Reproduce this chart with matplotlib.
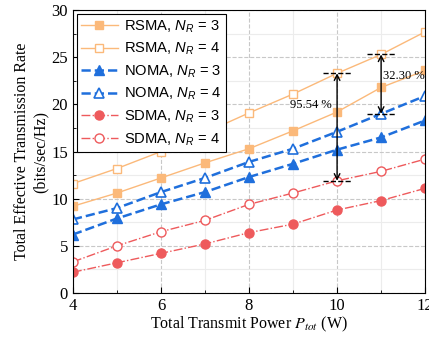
import matplotlib.pyplot as plt

plt.rcParams['font.family'] = 'Liberation Serif'
plt.rcParams['mathtext.fontset'] = 'custom'
plt.rcParams['mathtext.rm'] = 'Liberation Sans'
plt.rcParams['mathtext.it'] = 'Liberation Sans:italic'

# datos
potencia = [4, 5, 6, 7, 8, 9, 10, 11, 12]
rsma_3 = [9.2, 10.6, 12.2, 13.8, 15.3, 17.2, 19.2, 21.8, 23.6]
rsma_4 = [11.6, 13.2, 15.0, 17.0, 19.1, 21.1, 23.3, 25.3, 27.7]
noma_3 = [6.2, 7.9, 9.4, 10.7, 12.3, 13.7, 15.2, 16.5, 18.3]
noma_4 = [7.8, 9.0, 10.7, 12.2, 13.9, 15.3, 17.1, 19.0, 20.9]
sdma_3 = [2.2, 3.2, 4.2, 5.2, 6.4, 7.3, 8.8, 9.8, 11.1]
sdma_4 = [3.3, 5.0, 6.5, 7.7, 9.4, 10.6, 11.9, 12.9, 14.2]

c_rsma = '#fbb97a'
c_noma = '#1f6fdc'
c_sdma = '#ee5a5c'

fig = plt.figure(figsize=(4.29, 3.5), dpi=100)
ax = fig.add_axes([0.170, 0.163, 0.821, 0.808])

ax.plot(potencia, rsma_3, '-', color=c_rsma, lw=1.0, marker='s', ms=6,
        label=r'RSMA, $N_R$ = 3')
ax.plot(potencia, rsma_4, '-', color=c_rsma, lw=1.0, marker='s', ms=6, mfc='white',
        mew=1.0, label=r'RSMA, $N_R$ = 4')
ax.plot(potencia, noma_3, '--', color=c_noma, lw=1.8, marker='^', ms=7,
        label=r'NOMA, $N_R$ = 3')
ax.plot(potencia, noma_4, '--', color=c_noma, lw=1.8, marker='^', ms=7, mfc='white',
        mew=1.2, label=r'NOMA, $N_R$ = 4')
ax.plot(potencia, sdma_3, '-.', color=c_sdma, lw=1.0, marker='o', ms=6.5,
        label=r'SDMA, $N_R$ = 3')
ax.plot(potencia, sdma_4, '-.', color=c_sdma, lw=1.0, marker='o', ms=6.5, mfc='white',
        mew=1.0, label=r'SDMA, $N_R$ = 4')

# flechas de ganancia
i10 = potencia.index(10)
i11 = potencia.index(11)
for x, y0, y1 in [(10, sdma_4[i10], rsma_4[i10]), (11, noma_4[i11], rsma_4[i11])]:
    ax.annotate('', xy=(x, y1), xytext=(x, y0),
                arrowprops=dict(arrowstyle='<->', color='black', lw=1.0,
                                shrinkA=0, shrinkB=0))
    for y in (y0, y1):
        ax.plot([x - 0.33, x + 0.33], [y, y], '--', color='black', lw=1.0, zorder=5)
ax.text(9.87, 19.9, '95.54 %', fontsize=9, ha='right', va='center')
ax.text(11.05, 23.0, '32.30 %', fontsize=9, ha='left', va='center')

ax.set_xlim(4, 12)
ax.set_ylim(0, 30)
ax.set_xticks([4, 6, 8, 10, 12])
ax.set_xticks([5, 7, 9, 11], minor=True)
ax.set_yticks([0, 5, 10, 15, 20, 25, 30])
ax.set_yticks([2.5, 7.5, 12.5, 17.5, 22.5, 27.5], minor=True)
ax.tick_params(which='both', direction='in', labelsize=12)
ax.tick_params(which='major', length=4)
ax.tick_params(which='minor', length=2.5)
ax.grid(which='major', ls='--', color='#c8c8c8', lw=0.8)
ax.grid(which='minor', ls='-', color='#ececec', lw=0.8)
ax.set_axisbelow(True)

ax.set_xlabel(r'Total Transmit Power $P_{tot}$ (W)', fontsize=11.5,
              math_fontfamily='stix', labelpad=1)
ax.set_ylabel('Total Effective Transmission Rate\n(bits/sec/Hz)', fontsize=11.5,
              labelpad=2)

leg = ax.legend(loc='upper left', prop={'family': 'Liberation Sans', 'size': 10.6},
                fancybox=False, edgecolor='black', framealpha=1, numpoints=1,
                handlelength=2.5, labelspacing=0.42, borderpad=0.3,
                handletextpad=0.4, borderaxespad=0.25)
leg.get_frame().set_linewidth(0.8)

fig.savefig('out.png', dpi=100)
